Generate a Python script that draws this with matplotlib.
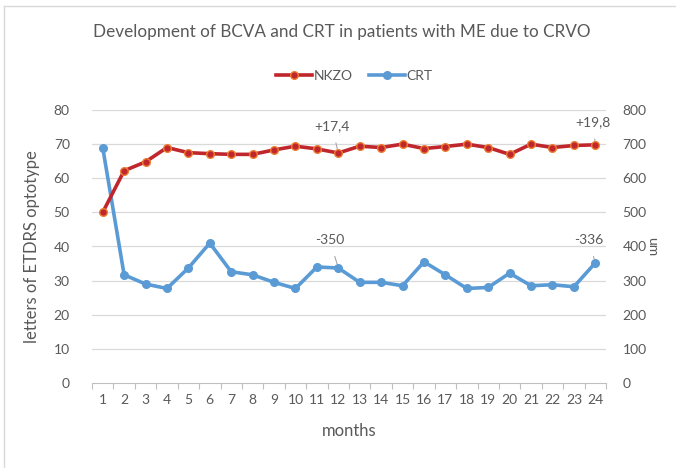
import matplotlib
matplotlib.use("Agg")
import matplotlib.pyplot as plt
from matplotlib.lines import Line2D

plt.rcParams['font.family'] = ['Lato', 'DejaVu Sans']

months = list(range(1, 25))
nkzo = [50, 62.2, 64.8, 69, 67.5, 67.2, 67, 67, 68.3, 69.4, 68.6, 67.4,
        69.4, 69, 70, 68.7, 69.3, 70, 69, 67, 70, 69, 69.6, 69.8]
crt = [690, 317, 290, 277, 337, 410, 326, 317, 295, 277, 340, 337,
       295, 295, 285, 355, 317, 277, 280, 322, 285, 288, 282, 352]
left_ticks = [0, 10, 20, 30, 40, 50, 60, 70, 80]
right_ticks = [0, 100, 200, 300, 400, 500, 600, 700, 800]

red = '#C0272D'
red_edge = '#ED7D31'
blue = '#5B9BD5'
txt = '#595959'
grid = '#D9D9D9'

fig = plt.figure(figsize=(6.76, 4.68), dpi=100)
ax = fig.add_axes([92/676, 1-383/468, (606-92)/676, (383-110)/468])
ax2 = ax.twinx()

ax.set_zorder(2)
ax.patch.set_visible(False)

ax2.plot(months, crt, color=blue, lw=2.6, marker='o', ms=5.5,
         mfc=blue, mec=blue, zorder=3, solid_capstyle='round')
ax.plot(months, nkzo, color=red, lw=2.6, marker='o', ms=5.5,
        mfc=red, mec=red_edge, mew=1.0, zorder=3)

ax.set_xlim(0.5, 24.5)
ax.set_ylim(0, 80)
ax2.set_ylim(0, 800)
ax.set_yticks(left_ticks)
ax2.set_yticks(right_ticks)
ax.set_xticks(months)
ax.set_xticks([m + 0.5 for m in range(0, 25)], minor=True)
ax.tick_params(axis='x', which='major', length=0, pad=8, labelsize=10, colors=txt)
ax.tick_params(axis='x', which='minor', length=4, color='#BFBFBF', width=0.8)
ax.tick_params(axis='y', length=0, pad=16, labelsize=10, colors=txt)
ax2.tick_params(axis='y', length=0, pad=12, labelsize=10, colors=txt)
for lbl in ax.get_xticklabels():
    lbl.set_color(txt)

for a in (ax, ax2):
    for s in a.spines.values():
        s.set_visible(False)
ax.spines['bottom'].set_visible(True)
ax.spines['bottom'].set_color('#BFBFBF')
ax.spines['bottom'].set_linewidth(0.8)

for v in left_ticks[1:]:
    ax2.axhline(v * 10, color=grid, lw=0.9, zorder=0)

ax.set_xlabel('months', fontsize=12, color=txt, labelpad=12)
ax.set_ylabel('letters of ETDRS optotype', fontsize=12, color=txt, labelpad=10)
ax2.set_ylabel('um', fontsize=10, color=txt, rotation=270, labelpad=8)

fig.text(0.505, 1-32/468, 'Development of BCVA and CRT in patients with ME due to CRVO',
         ha='center', va='center', fontsize=12.3, color=txt)

# annotations
ax.annotate('+17,4', xy=(12, nkzo[11]), xytext=(11.7, 75.3), ha='center', va='center',
            fontsize=10, color=txt,
            arrowprops=dict(arrowstyle='-', color='#A6A6A6', lw=0.8, shrinkA=6, shrinkB=3))
ax.annotate('+19,8', xy=(24, nkzo[23]), xytext=(23.9, 76.5), ha='center', va='center',
            fontsize=10, color=txt,
            arrowprops=dict(arrowstyle='-', color='#A6A6A6', lw=0.8, shrinkA=6, shrinkB=3))
ax2.annotate('-350', xy=(12, crt[11]), xytext=(11.6, 420), ha='center', va='center',
             fontsize=10, color=txt,
             arrowprops=dict(arrowstyle='-', color='#A6A6A6', lw=0.8, shrinkA=6, shrinkB=3))
ax2.annotate('-336', xy=(24, crt[23]), xytext=(23.7, 420), ha='center', va='center',
             fontsize=10, color=txt,
             arrowprops=dict(arrowstyle='-', color='#A6A6A6', lw=0.8, shrinkA=6, shrinkB=3))

handles = [Line2D([0], [0], color=red, lw=2.6, marker='o', ms=5.5, mfc=red, mec=red_edge),
           Line2D([0], [0], color=blue, lw=2.6, marker='o', ms=5.5, mfc=blue, mec=blue)]
fig.legend(handles, ['NKZO', 'CRT'], loc='center', bbox_to_anchor=(0.524, 1-76/468),
           ncol=2, frameon=False, fontsize=10, handlelength=2.6, handletextpad=0.1,
           columnspacing=1.2, labelcolor=txt)

# chart border
fig.add_artist(Line2D([4/676, 4/676], [0, 1-6/468], color='#D9D9D9', lw=1, transform=fig.transFigure))
fig.add_artist(Line2D([4/676, 1], [1-6/468, 1-6/468], color='#D9D9D9', lw=1, transform=fig.transFigure))

fig.savefig('out.png', dpi=100)
